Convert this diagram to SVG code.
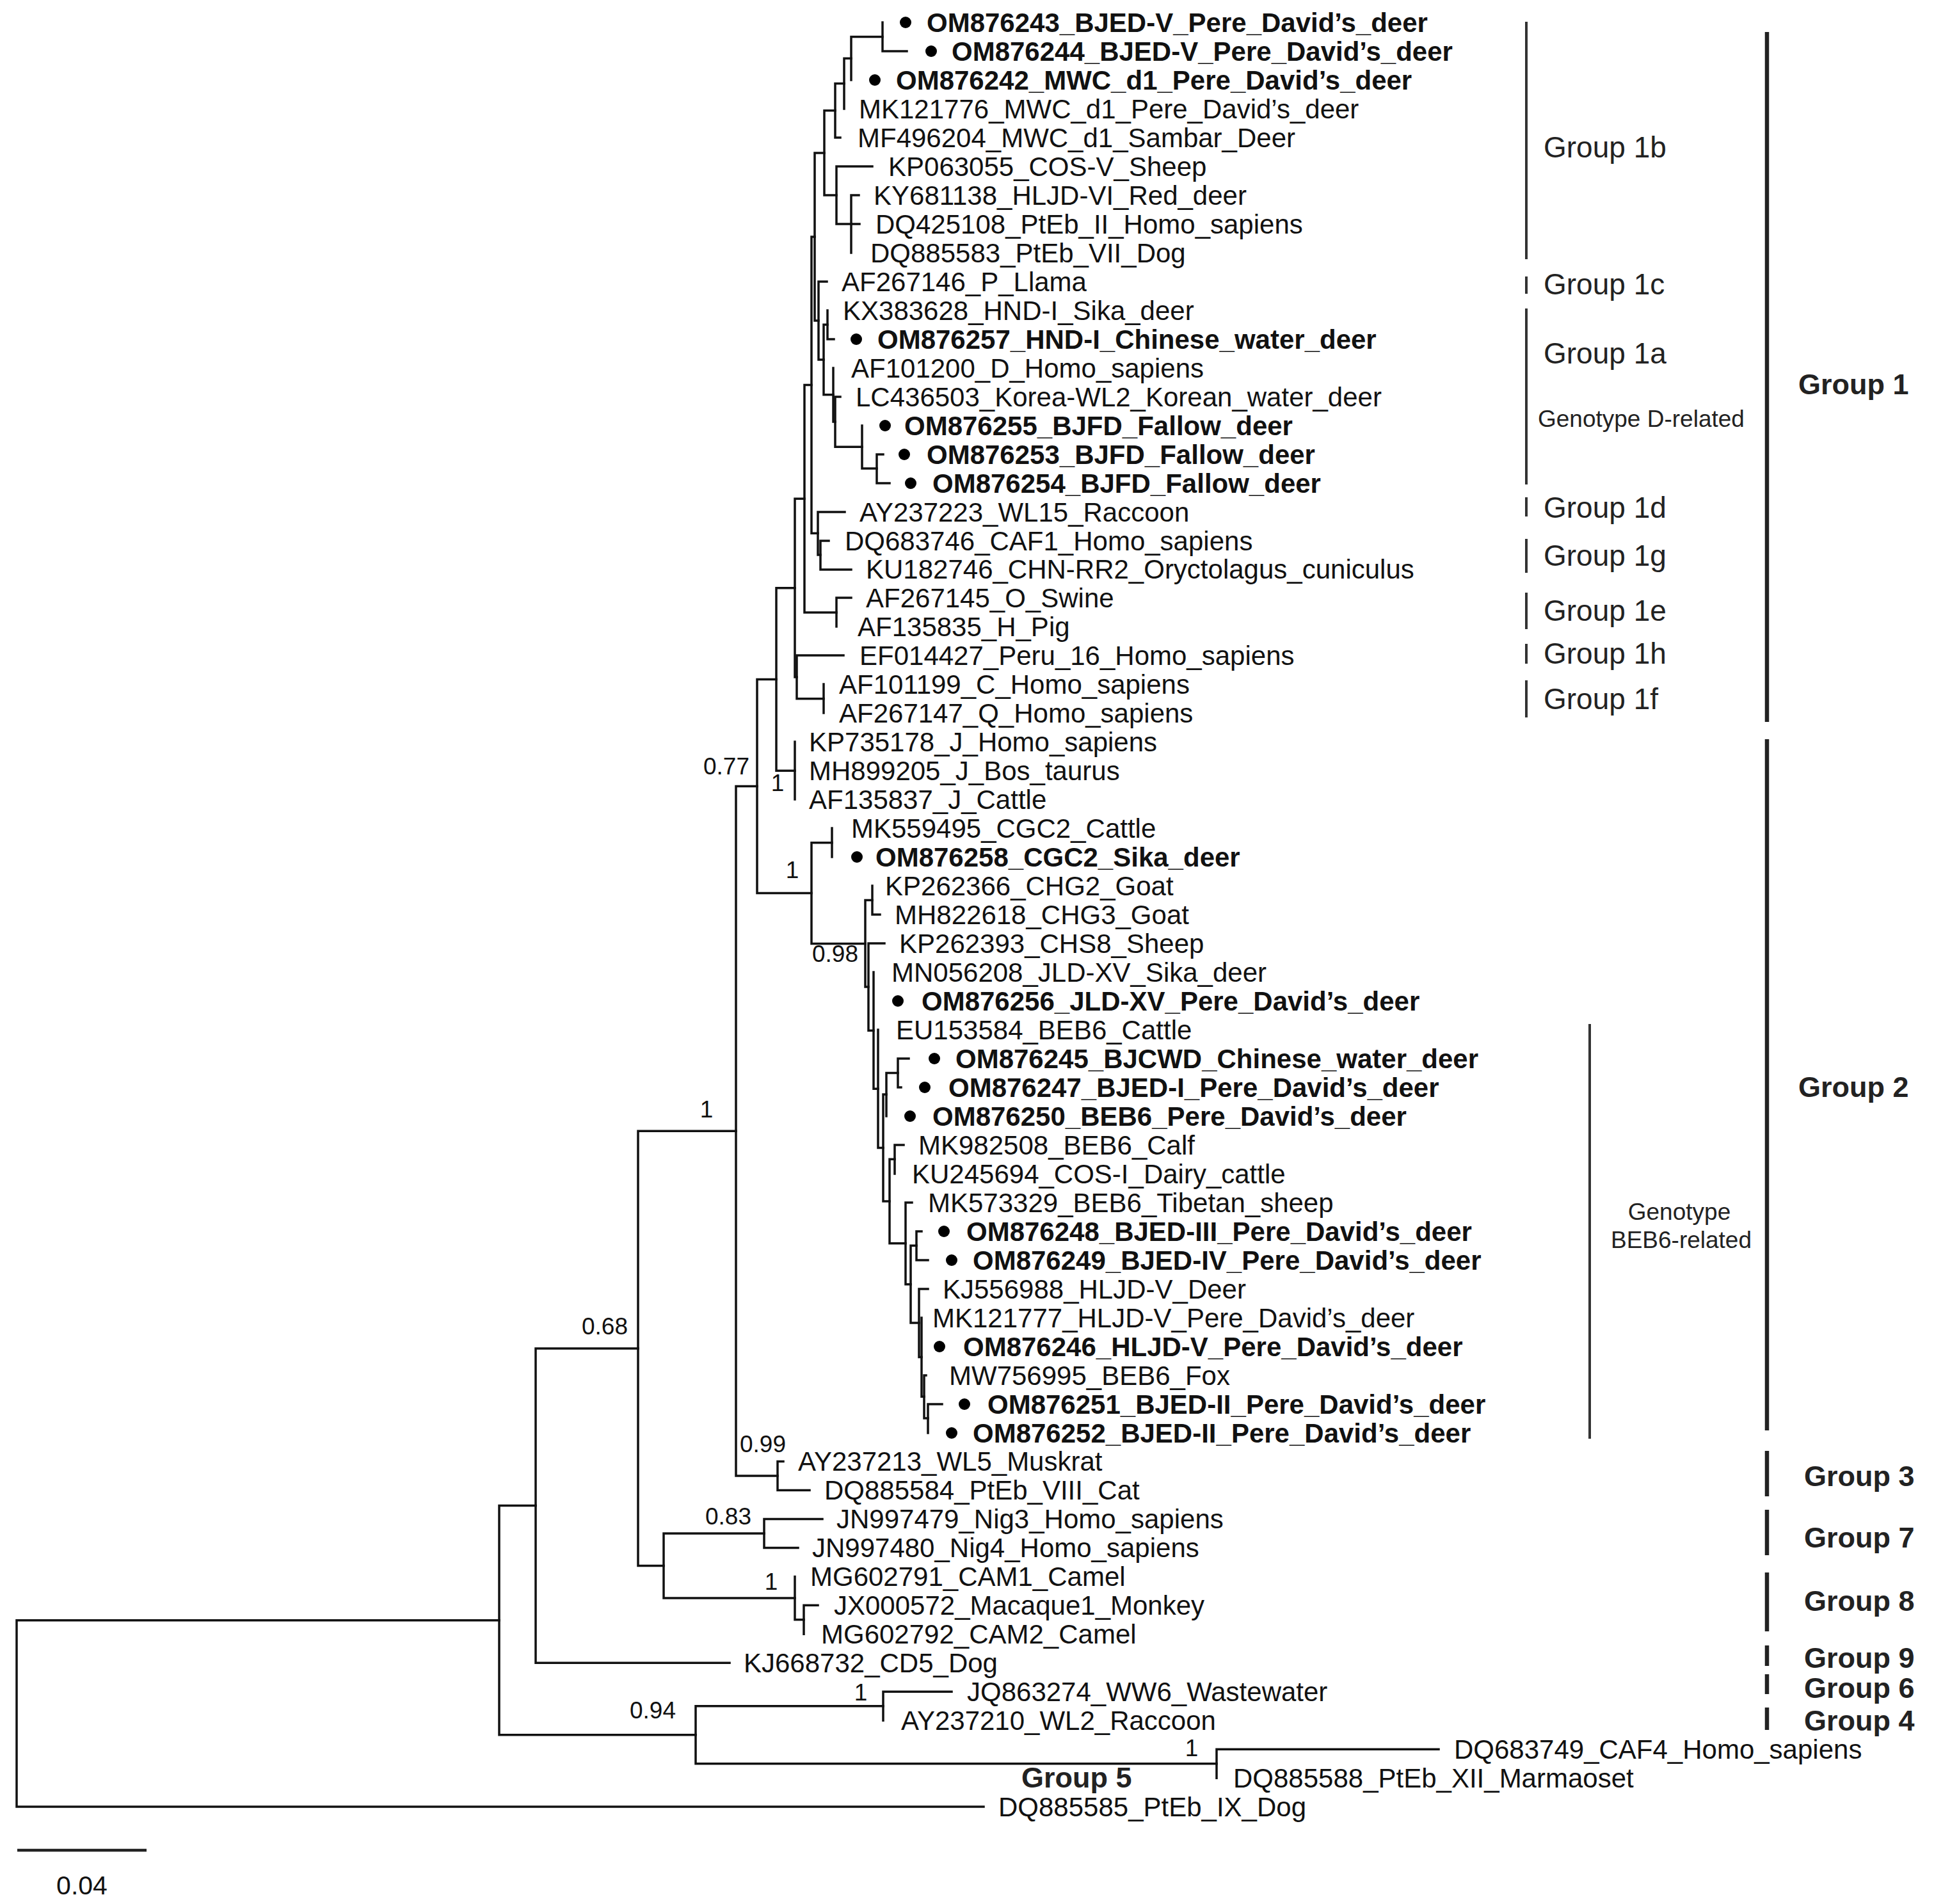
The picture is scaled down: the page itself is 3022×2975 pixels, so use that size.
<svg xmlns="http://www.w3.org/2000/svg" width="3022" height="2975" viewBox="0 0 3022 2975">
<style>
text{font-family:"Liberation Sans",Arial,sans-serif;fill:#111}
.lf{font-size:42px}
.lb{font-size:42px;font-weight:bold}
.sv{font-size:37px;text-anchor:middle}
.gl{font-size:46px;fill:#222}
.gs{font-size:37px;fill:#222}
.gb{font-size:45px;font-weight:bold;fill:#222}
.br{fill:none;stroke:#111;stroke-width:3.5;stroke-linecap:square}
.dot{fill:#000}
.bar{stroke:#333;stroke-width:4}
.bar2{stroke:#222;stroke-width:6.5}
</style>
<rect width="3022" height="2975" fill="#fff"/>
<g id="connectors" class="br">
<path id="n-a1" d="M1379 35V80M1379 80H1417"/>
<path id="n-a2" d="M1330 57.5V125M1330 57.5H1379"/>
<path id="n-a3" d="M1319 91.2V170M1319 91.2H1330"/>
<path id="n-a4" d="M1305 130.6V215M1305 130.6H1319M1305 215H1313"/>
<path id="n-b1" d="M1330 305V395M1330 305H1342M1330 350H1343"/>
<path id="n-b2" d="M1307 260V350M1307 260H1363M1307 350H1330"/>
<path id="n-a5" d="M1288 172.8V305M1288 172.8H1305M1288 305H1307"/>
<path id="n-c1" d="M1293 485V530M1293 530H1303"/>
<path id="n-c2" d="M1370 710V755M1370 710H1380M1370 755H1390"/>
<path id="n-c3" d="M1347 665V732M1347 732H1370"/>
<path id="n-c4" d="M1305 620V698.3M1305 620H1313M1305 698.3H1347"/>
<path id="n-c5" d="M1302 575V659M1302 659H1305"/>
<path id="n-c6" d="M1287 507.2V616.8M1287 507.2H1293M1287 616.8H1302"/>
<path id="n-c7" d="M1279 440V562M1279 440H1292M1279 562H1287"/>
<path id="n-a6" d="M1273 238.9V501M1273 238.9H1288M1273 501H1279"/>
<path id="n-d1" d="M1282 845V890M1282 845H1295M1282 890H1330"/>
<path id="n-d2" d="M1278 800V867M1278 800H1320M1278 867H1282"/>
<path id="n-Q" d="M1268 370V833.2M1268 370H1273M1268 833.2H1278"/>
<path id="n-e1" d="M1307 934V979M1307 934H1330"/>
<path id="n-R" d="M1257 601.6V956.9M1257 601.6H1268M1257 956.9H1307"/>
<path id="n-f1" d="M1287 1069V1114"/>
<path id="n-f2" d="M1245 1024V1091.8M1245 1024H1318M1245 1091.8H1287"/>
<path id="n-S" d="M1242 779.3V1058M1242 779.3H1257M1242 1058H1245"/>
<path id="n-J" d="M1242 1159V1249"/>
<path id="n-X1" d="M1213 918.7V1204.2M1213 918.7H1242M1213 1204.2H1242"/>
<path id="n-CGC2" d="M1300 1294V1339"/>
<path id="n-KM" d="M1363 1384V1429M1363 1429H1375"/>
<path id="n-B11" d="M1450 2194V2239M1450 2194H1472"/>
<path id="n-B10" d="M1444 2149V2216M1444 2149H1447M1444 2216H1450"/>
<path id="n-B9" d="M1440 2059V2182.3M1440 2182.3H1444"/>
<path id="n-B8" d="M1436 2014V2120.5M1436 2014H1450M1436 2120.5H1440"/>
<path id="n-4849" d="M1432 1924V1969M1432 1924H1440M1432 1969H1450"/>
<path id="n-B7" d="M1423 1946.2V2067M1423 1946.2H1432M1423 2067H1436"/>
<path id="n-B6" d="M1415 1879V2006.7M1415 1879H1425M1415 2006.7H1423"/>
<path id="n-Calf" d="M1398 1789V1834M1398 1789H1412"/>
<path id="n-B5" d="M1390 1811.3V1942.7M1390 1811.3H1398M1390 1942.7H1415"/>
<path id="n-IJ" d="M1403 1654V1699M1403 1654H1420M1403 1699H1408"/>
<path id="n-CWD" d="M1385 1676.4V1744M1385 1676.4H1403"/>
<path id="n-B4" d="M1380 1710.1V1877M1380 1710.1H1385M1380 1877H1390"/>
<path id="n-B3" d="M1372 1609V1793.6M1372 1793.6H1380"/>
<path id="n-B2" d="M1365 1519V1701.3M1365 1701.3H1372"/>
<path id="n-B1" d="M1357 1474V1610.2M1357 1474H1382M1357 1610.2H1365"/>
<path id="n-098" d="M1352 1406.6V1542.1M1352 1406.6H1363M1352 1542.1H1357"/>
<path id="n-g2" d="M1268 1316.7V1474.4M1268 1316.7H1300M1268 1474.4H1352"/>
<path id="n-077" d="M1183 1061.5V1395.5M1183 1061.5H1213M1183 1395.5H1268"/>
<path id="n-099" d="M1215 2283.5V2328.5M1215 2283.5H1224M1215 2328.5H1265"/>
<path id="n-1" d="M1150 1228.5V2306M1150 1228.5H1183M1150 2306H1215"/>
<path id="n-E" d="M1194 2373.4V2418.4M1194 2373.4H1285M1194 2418.4H1247"/>
<path id="n-Fsub" d="M1256 2508.3V2553.3M1256 2508.3H1278"/>
<path id="n-F" d="M1242 2463.4V2530.8M1242 2530.8H1256"/>
<path id="n-D" d="M1037 2395.9V2497.1M1037 2395.9H1194M1037 2497.1H1242"/>
<path id="n-C" d="M997 1767.3V2446.5M997 1767.3H1150M997 2446.5H1037"/>
<path id="n-B" d="M837 2106.9V2598.3M837 2106.9H997M837 2598.3H1140"/>
<path id="n-WW" d="M1380 2643.3V2688.2M1380 2643.3H1487"/>
<path id="n-G5" d="M1901 2733.2V2778.2M1901 2733.2H2248"/>
<path id="n-094" d="M1087 2665.8V2755.7M1087 2665.8H1380M1087 2755.7H1901"/>
<path id="n-A" d="M780 2352.6V2710.7M780 2352.6H837M780 2710.7H1087"/>
<path id="n-root" d="M26 2531.7V2823.1M26 2531.7H780M26 2823.1H1537"/>
</g>
<g id="support-values" class="sv">
<text x="1135" y="1210">0.77</text>
<text x="1215" y="1236">1</text>
<text x="1238" y="1372">1</text>
<text x="1305" y="1503">0.98</text>
<text x="1104" y="1746">1</text>
<text x="945" y="2085">0.68</text>
<text x="1192" y="2269">0.99</text>
<text x="1138" y="2382">0.83</text>
<text x="1205" y="2484">1</text>
<text x="1345" y="2657">1</text>
<text x="1020" y="2685">0.94</text>
<text x="1862" y="2744">1</text>
</g>
<g id="leaf-OM876243"><circle class="dot" cx="1415" cy="35" r="9"/><text class="lb" x="1448" y="50">OM876243_BJED-V_Pere_David’s_deer</text></g>
<g id="leaf-OM876244"><circle class="dot" cx="1455" cy="80" r="9"/><text class="lb" x="1487" y="95">OM876244_BJED-V_Pere_David’s_deer</text></g>
<g id="leaf-OM876242"><circle class="dot" cx="1367" cy="125" r="9"/><text class="lb" x="1400" y="140">OM876242_MWC_d1_Pere_David’s_deer</text></g>
<g id="leaf-MK121776"><text class="lf" x="1342" y="185">MK121776_MWC_d1_Pere_David’s_deer</text></g>
<g id="leaf-MF496204"><text class="lf" x="1340" y="230">MF496204_MWC_d1_Sambar_Deer</text></g>
<g id="leaf-KP063055"><text class="lf" x="1388" y="275">KP063055_COS-V_Sheep</text></g>
<g id="leaf-KY681138"><text class="lf" x="1365" y="320">KY681138_HLJD-VI_Red_deer</text></g>
<g id="leaf-DQ425108"><text class="lf" x="1368" y="365">DQ425108_PtEb_II_Homo_sapiens</text></g>
<g id="leaf-DQ885583"><text class="lf" x="1360" y="410">DQ885583_PtEb_VII_Dog</text></g>
<g id="leaf-AF267146"><text class="lf" x="1315" y="455">AF267146_P_Llama</text></g>
<g id="leaf-KX383628"><text class="lf" x="1317" y="500">KX383628_HND-I_Sika_deer</text></g>
<g id="leaf-OM876257"><circle class="dot" cx="1338" cy="530" r="9"/><text class="lb" x="1371" y="545">OM876257_HND-I_Chinese_water_deer</text></g>
<g id="leaf-AF101200"><text class="lf" x="1330" y="590">AF101200_D_Homo_sapiens</text></g>
<g id="leaf-LC436503"><text class="lf" x="1337" y="635">LC436503_Korea-WL2_Korean_water_deer</text></g>
<g id="leaf-OM876255"><circle class="dot" cx="1383" cy="665" r="9"/><text class="lb" x="1413" y="680">OM876255_BJFD_Fallow_deer</text></g>
<g id="leaf-OM876253"><circle class="dot" cx="1413" cy="710" r="9"/><text class="lb" x="1448" y="725">OM876253_BJFD_Fallow_deer</text></g>
<g id="leaf-OM876254"><circle class="dot" cx="1423" cy="755" r="9"/><text class="lb" x="1457" y="770">OM876254_BJFD_Fallow_deer</text></g>
<g id="leaf-AY237223"><text class="lf" x="1343" y="815">AY237223_WL15_Raccoon</text></g>
<g id="leaf-DQ683746"><text class="lf" x="1320" y="860">DQ683746_CAF1_Homo_sapiens</text></g>
<g id="leaf-KU182746"><text class="lf" x="1353" y="904">KU182746_CHN-RR2_Oryctolagus_cuniculus</text></g>
<g id="leaf-AF267145"><text class="lf" x="1353" y="949">AF267145_O_Swine</text></g>
<g id="leaf-AF135835"><text class="lf" x="1340" y="994">AF135835_H_Pig</text></g>
<g id="leaf-EF014427"><text class="lf" x="1343" y="1039">EF014427_Peru_16_Homo_sapiens</text></g>
<g id="leaf-AF101199"><text class="lf" x="1311" y="1084">AF101199_C_Homo_sapiens</text></g>
<g id="leaf-AF267147"><text class="lf" x="1311" y="1129">AF267147_Q_Homo_sapiens</text></g>
<g id="leaf-KP735178"><text class="lf" x="1264" y="1174">KP735178_J_Homo_sapiens</text></g>
<g id="leaf-MH899205"><text class="lf" x="1264" y="1219">MH899205_J_Bos_taurus</text></g>
<g id="leaf-AF135837"><text class="lf" x="1264" y="1264">AF135837_J_Cattle</text></g>
<g id="leaf-MK559495"><text class="lf" x="1330" y="1309">MK559495_CGC2_Cattle</text></g>
<g id="leaf-OM876258"><circle class="dot" cx="1339" cy="1339" r="9"/><text class="lb" x="1368" y="1354">OM876258_CGC2_Sika_deer</text></g>
<g id="leaf-KP262366"><text class="lf" x="1383" y="1399">KP262366_CHG2_Goat</text></g>
<g id="leaf-MH822618"><text class="lf" x="1398" y="1444">MH822618_CHG3_Goat</text></g>
<g id="leaf-KP262393"><text class="lf" x="1405" y="1489">KP262393_CHS8_Sheep</text></g>
<g id="leaf-MN056208"><text class="lf" x="1393" y="1534">MN056208_JLD-XV_Sika_deer</text></g>
<g id="leaf-OM876256"><circle class="dot" cx="1403" cy="1564" r="9"/><text class="lb" x="1440" y="1579">OM876256_JLD-XV_Pere_David’s_deer</text></g>
<g id="leaf-EU153584"><text class="lf" x="1400" y="1624">EU153584_BEB6_Cattle</text></g>
<g id="leaf-OM876245"><circle class="dot" cx="1460" cy="1654" r="9"/><text class="lb" x="1493" y="1669">OM876245_BJCWD_Chinese_water_deer</text></g>
<g id="leaf-OM876247"><circle class="dot" cx="1445" cy="1699" r="9"/><text class="lb" x="1482" y="1714">OM876247_BJED-I_Pere_David’s_deer</text></g>
<g id="leaf-OM876250"><circle class="dot" cx="1422" cy="1744" r="9"/><text class="lb" x="1457" y="1759">OM876250_BEB6_Pere_David’s_deer</text></g>
<g id="leaf-MK982508"><text class="lf" x="1435" y="1804">MK982508_BEB6_Calf</text></g>
<g id="leaf-KU245694"><text class="lf" x="1425" y="1849">KU245694_COS-I_Dairy_cattle</text></g>
<g id="leaf-MK573329"><text class="lf" x="1450" y="1894">MK573329_BEB6_Tibetan_sheep</text></g>
<g id="leaf-OM876248"><circle class="dot" cx="1475" cy="1924" r="9"/><text class="lb" x="1510" y="1939">OM876248_BJED-III_Pere_David’s_deer</text></g>
<g id="leaf-OM876249"><circle class="dot" cx="1487" cy="1969" r="9"/><text class="lb" x="1520" y="1984">OM876249_BJED-IV_Pere_David’s_deer</text></g>
<g id="leaf-KJ556988"><text class="lf" x="1473" y="2029">KJ556988_HLJD-V_Deer</text></g>
<g id="leaf-MK121777"><text class="lf" x="1457" y="2074">MK121777_HLJD-V_Pere_David’s_deer</text></g>
<g id="leaf-OM876246"><circle class="dot" cx="1468" cy="2104" r="9"/><text class="lb" x="1505" y="2119">OM876246_HLJD-V_Pere_David’s_deer</text></g>
<g id="leaf-MW756995"><text class="lf" x="1483" y="2164">MW756995_BEB6_Fox</text></g>
<g id="leaf-OM876251"><circle class="dot" cx="1507" cy="2194" r="9"/><text class="lb" x="1543" y="2209">OM876251_BJED-II_Pere_David’s_deer</text></g>
<g id="leaf-OM876252"><circle class="dot" cx="1487" cy="2239" r="9"/><text class="lb" x="1520" y="2254">OM876252_BJED-II_Pere_David’s_deer</text></g>
<g id="leaf-AY237213"><text class="lf" x="1247" y="2298">AY237213_WL5_Muskrat</text></g>
<g id="leaf-DQ885584"><text class="lf" x="1288" y="2343">DQ885584_PtEb_VIII_Cat</text></g>
<g id="leaf-JN997479"><text class="lf" x="1307" y="2388">JN997479_Nig3_Homo_sapiens</text></g>
<g id="leaf-JN997480"><text class="lf" x="1269" y="2433">JN997480_Nig4_Homo_sapiens</text></g>
<g id="leaf-MG602791"><text class="lf" x="1266" y="2478">MG602791_CAM1_Camel</text></g>
<g id="leaf-JX000572"><text class="lf" x="1303" y="2523">JX000572_Macaque1_Monkey</text></g>
<g id="leaf-MG602792"><text class="lf" x="1283" y="2568">MG602792_CAM2_Camel</text></g>
<g id="leaf-KJ668732"><text class="lf" x="1162" y="2613">KJ668732_CD5_Dog</text></g>
<g id="leaf-JQ863274"><text class="lf" x="1511" y="2658">JQ863274_WW6_Wastewater</text></g>
<g id="leaf-AY237210"><text class="lf" x="1408" y="2703">AY237210_WL2_Raccoon</text></g>
<g id="leaf-DQ683749"><text class="lf" x="2272" y="2748">DQ683749_CAF4_Homo_sapiens</text></g>
<g id="leaf-DQ885588"><text class="lf" x="1927" y="2793">DQ885588_PtEb_XII_Marmaoset</text></g>
<g id="leaf-DQ885585"><text class="lf" x="1560" y="2838">DQ885585_PtEb_IX_Dog</text></g>
<g id="subgroups">
<line class="bar" x1="2385" y1="34" x2="2385" y2="405"/><text class="gl" x="2412" y="246">Group 1b</text>
<line class="bar" x1="2385" y1="432" x2="2385" y2="459"/><text class="gl" x="2412" y="460">Group 1c</text>
<line class="bar" x1="2385" y1="482" x2="2385" y2="757"/><text class="gl" x="2412" y="568">Group 1a</text>
<text class="gs" x="2403" y="667">Genotype D-related</text>
<line class="bar" x1="2385" y1="777" x2="2385" y2="807"/><text class="gl" x="2412" y="809">Group 1d</text>
<line class="bar" x1="2385" y1="842" x2="2385" y2="895"/><text class="gl" x="2412" y="884">Group 1g</text>
<line class="bar" x1="2385" y1="926" x2="2385" y2="983"/><text class="gl" x="2412" y="970">Group 1e</text>
<line class="bar" x1="2385" y1="1006" x2="2385" y2="1037"/><text class="gl" x="2412" y="1037">Group 1h</text>
<line class="bar" x1="2385" y1="1063" x2="2385" y2="1121"/><text class="gl" x="2412" y="1108">Group 1f</text>
<line class="bar" x1="2484" y1="1600" x2="2484" y2="2248"/>
<text class="gs" x="2624" y="1906" text-anchor="middle">Genotype</text>
<text class="gs" x="2627" y="1950" text-anchor="middle">BEB6-related</text>
</g>
<g id="groups">
<g id="group-1"><line class="bar2" x1="2761" y1="50" x2="2761" y2="1128"/><text class="gb" x="2810" y="616">Group 1</text></g>
<g id="group-2"><line class="bar2" x1="2761" y1="1155" x2="2761" y2="2235"/><text class="gb" x="2810" y="1714">Group 2</text></g>
<g id="group-3"><line class="bar2" x1="2761" y1="2267" x2="2761" y2="2338"/><text class="gb" x="2819" y="2322">Group 3</text></g>
<g id="group-7"><line class="bar2" x1="2761" y1="2359" x2="2761" y2="2430"/><text class="gb" x="2819" y="2418">Group 7</text></g>
<g id="group-8"><line class="bar2" x1="2761" y1="2457" x2="2761" y2="2549"/><text class="gb" x="2819" y="2517">Group 8</text></g>
<g id="group-9"><line class="bar2" x1="2761" y1="2571" x2="2761" y2="2603"/><text class="gb" x="2819" y="2606">Group 9</text></g>
<g id="group-6"><line class="bar2" x1="2761" y1="2616" x2="2761" y2="2647"/><text class="gb" x="2819" y="2653">Group 6</text></g>
<g id="group-4"><line class="bar2" x1="2761" y1="2668" x2="2761" y2="2703"/><text class="gb" x="2819" y="2704">Group 4</text></g>
<g id="group-5"><text class="gb" x="1596" y="2793">Group 5</text></g>
</g>
<g id="scale-bar">
<line x1="27" y1="2891" x2="229" y2="2891" stroke="#222" stroke-width="4.5"/>
<text x="128" y="2960" font-size="41" text-anchor="middle">0.04</text>
</g>
</svg>
